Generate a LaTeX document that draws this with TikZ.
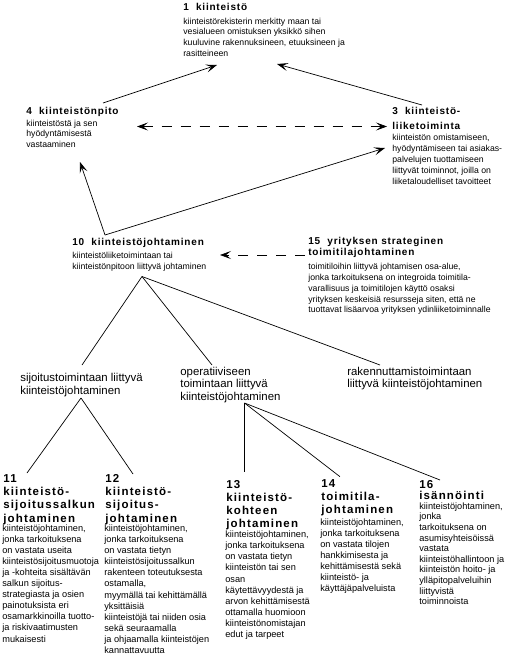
\documentclass[tikz,border=0pt]{standalone}
\usepackage{fontspec}
\setmainfont{Liberation Sans}
\newfontfamily\ttlfont[LetterSpace=8]{Liberation Sans}
\newfontfamily\btlfont[LetterSpace=10]{Liberation Sans}
\usetikzlibrary{arrows.meta}
% every node is placed at the baseline of its last line
\tikzset{
  ttl/.style={anchor=base west, inner sep=0pt, align=left,
    font=\ttlfont\bfseries\fontsize{10}{13}\selectfont},
  txt/.style={anchor=base west, inner sep=0pt, align=left,
    font=\fontsize{8.7}{10.9}\selectfont},
  mid/.style={anchor=base west, inner sep=0pt, align=left,
    font=\fontsize{11.4}{12.7}\selectfont},
  btl/.style={anchor=base west, inner sep=0pt, align=left,
    font=\btlfont\bfseries\fontsize{11.5}{13.3}\selectfont},
  btx/.style={anchor=base west, inner sep=0pt, align=left,
    font=\fontsize{9.2}{11.1}\selectfont},
  dashline/.style={dash pattern=on 10pt off 9pt}
}
\begin{document}
\begin{tikzpicture}[x=1pt, y=-1pt, line width=.7pt,
  >={Stealth[length=11pt,width=8pt,inset=5pt]}]
\useasboundingbox (0,0) rectangle (507,664);
% upper level
\node[ttl] (n1t) at (183,10.5) {1\ \ kiinteistö};
\node[txt] (n1) at (183,56.7) {kiinteistörekisterin merkitty maan tai\\vesialueen omistuksen yksikkö sihen\\kuuluvine rakennuksineen, etuuksineen ja\\rasitteineen};
\node[ttl] (n4t) at (26,114) {4\ \ kiinteistönpito};
\node[txt] (n4) at (26,147.8) {kiinteistöstä ja sen\\hyödyntämisestä\\vastaaminen};
\node[ttl] (n3t) at (392,129) {3\ \ kiinteistö-\\[2pt]liiketoiminta};
\node[txt] (n3) at (392,184.3) {kiinteistön omistamiseen,\\hyödyntämiseen tai asiakas-\\palvelujen tuottamiseen\\liittyvät toiminnot, joilla on\\liiketaloudelliset tavoitteet};
\node[ttl] (n10t) at (72,245.7) {10\ \ kiinteistöjohtaminen};
\node[txt] (n10) at (72,269.2) {kiinteistöliiketoimintaan tai\\kiinteistönpitoon liittyvä johtaminen};
\node[ttl] (n15t) at (308,255) {15\ \ yrityksen strateginen\\[-2pt]toimitilajohtaminen};
\node[txt] (n15) at (308,312.9) {toimitiloihin liittyvä johtamisen osa-alue,\\jonka tarkoituksena on integroida toimitila-\\varallisuus ja toimitilojen käyttö osaksi\\yrityksen keskeisiä resursseja siten, että ne\\tuottavat lisäarvoa yrityksen ydinliiketoiminnalle};
% middle level
\node[mid] (sij) at (20,394) {sijoitustoimintaan liittyvä\\kiinteistöjohtaminen};
\node[mid] (op) at (180,400.4) {operatiiviseen\\toimintaan liittyvä\\kiinteistöjohtaminen};
\node[mid] (rak) at (347,387.7) {rakennuttamistoimintaan\\liittyvä kiinteistöjohtaminen};
% lower level
\node[btl] (n11t) at (3,522) {11\\kiinteistö-\\sijoitussalkun\\johtaminen};
\node[btx] (n11) at (2,642) {kiinteistöjohtaminen,\\jonka tarkoituksena\\on vastata useita\\kiinteistösijoitusmuotoja\\ja -kohteita sisältävän\\salkun sijoitus-\\strategiasta ja osien\\painotuksista eri\\osamarkkinoilla tuotto-\\ja riskivaatimusten\\mukaisesti};
\node[btl] (n12t) at (105,522) {12\\kiinteistö-\\sijoitus-\\johtaminen};
\node[btx] (n12) at (104,653.5) {kiinteistöjohtaminen,\\jonka tarkoituksena\\on vastata tietyn\\kiinteistösijoitussalkun\\rakenteen toteutuksesta\\ostamalla,\\myymällä tai kehittämällä\\yksittäisiä\\kiinteistöjä tai niiden osia\\sekä seuraamalla\\ja ohjaamalla kiinteistöjen\\kannattavuutta};
\node[btl] (n13t) at (226,527.9) {13\\kiinteistö-\\kohteen\\johtaminen};
\node[btx] (n13) at (225,637.5) {kiinteistöjohtaminen,\\jonka tarkoituksena\\on vastata tietyn\\kiinteistön tai sen\\osan\\käytettävyydestä ja\\arvon kehittämisestä\\ottamalla huomioon\\kiinteistönomistajan\\edut ja tarpeet};
\node[btl] (n14t) at (321,513.6) {14\\toimitila-\\johtaminen};
\node[btx] (n14) at (320,591.7) {kiinteistöjohtaminen,\\jonka tarkoituksena\\on vastata tilojen\\hankkimisesta ja\\kehittämisestä sekä\\kiinteistö- ja\\käyttäjäpalveluista};
\node[btl] (n16t) at (419,499.5) {16\\[-1.8pt]isännöinti};
\node[btx, font=\fontsize{9.2}{10.6}\selectfont] (n16) at (419,604.7) {kiinteistöjohtaminen,\\jonka\\tarkoituksena on\\asumisyhteisöissä\\vastata\\kiinteistöhallintoon ja\\kiinteistön hoito- ja\\ylläpitopalveluihin\\liittyvistä\\toiminnoista};
% connector ends
\coordinate (p4) at (103,103);
\coordinate (p3) at (422,105);
\coordinate (q1a) at (217,65);
\coordinate (q1b) at (277,64);
\coordinate (q4) at (137,126.5);
\coordinate (q3) at (387,126.5);
\coordinate (h10) at (105,235);
\coordinate (q4b) at (80,162);
\coordinate (q3b) at (385,148);
\coordinate (p15) at (305,255);
\coordinate (q10) at (220,255);
\coordinate (h2) at (142,276.5);
\coordinate (e-sij) at (82,365);
\coordinate (e-op) at (212,365);
\coordinate (e-rak) at (380,365);
\coordinate (h-sij) at (81,398);
\coordinate (h-op) at (244.5,403);
\coordinate (e11) at (27,473);
\coordinate (e12) at (133,474);
\coordinate (e13) at (244.5,472);
\coordinate (e14) at (340,476.7);
\coordinate (e16) at (440,480);
% arrows
\draw[->] (p4) -- (q1a);
\draw[->] (p3) -- (q1b);
\draw[<->, dashline] (q4) -- (q3);
\draw[->] (h10) -- (q4b);
\draw[->] (h10) -- (q3b);
\draw[->, dashline] (p15) -- (q10);
% tree
\foreach \e in {e-sij,e-op,e-rak}
\draw (h2) -- (\e);
\foreach \e in {e11,e12}
\draw (h-sij) -- (\e);
\foreach \e in {e13,e14,e16}
\draw (h-op) -- (\e);
\end{tikzpicture}
\end{document}
